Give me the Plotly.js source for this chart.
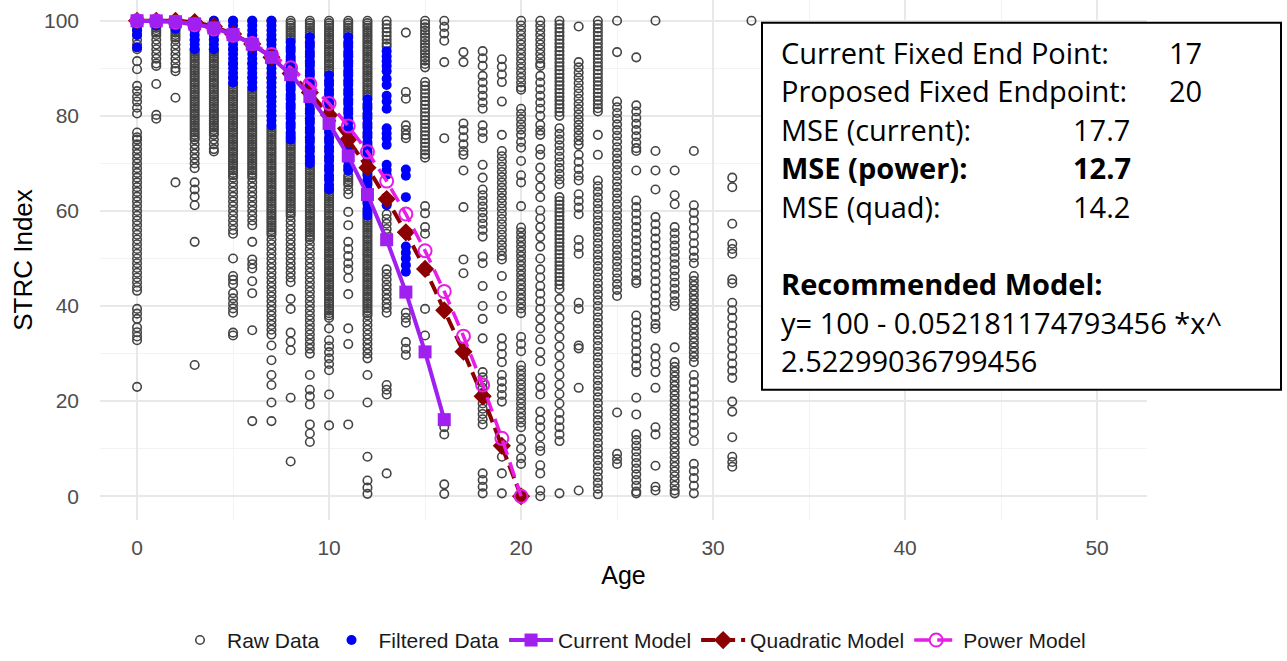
<!DOCTYPE html>
<html><head><meta charset="utf-8">
<script src="https://cdn.plot.ly/plotly-3.0.1.min.js"></script>
<style>html,body{margin:0;padding:0;background:#fff}#chart{width:1287px;height:661px}</style>
</head><body><div id="chart"></div>
<script>
// ---------- DATA ----------
const rawAges = [0,1,2,3,4,5,6,7,8,9,10,11,12,13,14,15,16,17,18,19,20,21,22,23,24,25,26,27,28,29,31,32];
const rawValues = [
 [100,99.5,99,98,97,96,95,94,91.5,89.8,86.3,85.2,84,83,81.7,80.5,76.5,75.5,75,74,73,72,71,70,69,68,67,66,65,64,63,62,61,60,59,58,57,56,55,54,53,52,51,50,49,48,47,46,45,44,43.2,39.4,38.4,37.3,35.5,34.5,33.6,32.8,23],
 [100,99.5,99,98.5,98,97.5,97,96,95,94,93,92,91,90.5,86.7,80.2,79.4],
 [100,99.5,99,98.5,98,97.5,97,96.5,96,95,94,93,92,91,90,89.4,83.8,66],
 [100,98,96,94,93.5,93,92.5,92,91.5,91,90.5,90,89.5,89,88.5,88,87.5,87,86.5,86,85.5,85,84.5,84,83.5,83,82.5,82,81.5,81,80.5,80,79.5,79,78.5,78,77.5,77,76.5,76,75.5,75,74,73,72,71,70,69,66,64.5,63,61.2,53.5,27.6],
 [100,98,96,94,93.5,93,92.5,92,91.5,91,90.5,90,89.5,89,88.5,88,87.5,87,86.5,86,85.5,85,84.5,84,83.5,83,82.5,82,81.5,81,80.5,80,79.5,79,78.5,78,77.5,77,76.5,76,75,74,73,72.5],
 [100,97,94,91,88,86.5,86,85.5,85,84.5,84,83.5,83,82.5,82,81.5,81,80.5,80,79.5,79,78.5,78,77.5,77,76.5,76,75.5,75,74.5,74,73.5,73,72.5,72,71.5,71,70.5,70,69.5,69,68.5,68,67.5,67,66,65,64,63,62,61,60,59,58,57,56,55.2,50,46.3,45.5,44.6,42.7,41.6,40.5,39.5,38.6,34.4,33.8],
 [100,97,94,91,88,85.5,85,84.5,84,83.5,83,82.5,82,81.5,81,80.5,80,79.5,79,78.5,78,77.5,77,76.5,76,75.5,75,74.5,74,73.5,73,72.5,72,71.5,71,70.5,70,69.5,69,68.5,68,67.5,67,66,65,64,63,62,61,60,59,58,57,53.5,49.8,48.8,47.9,45.2,42.7,34.9,15.8],
 [100,96,92,88,84,80,77.5,77,76.5,76,75.5,75,74.5,74,73.5,73,72.5,72,71.5,71,70.5,70,69.5,69,68.5,68,67.5,67,66.5,66,65.5,65,64.5,64,63.5,63,62.5,62,61.5,61,60.5,60,59.5,59,58.5,58,57.5,57,56.5,56,55.5,55,54,53,52,51,50,49,48,47,46,45,44,43,42,41,40,39,38,37,36,35,34,31.7,28.6,25.5,23.4,19.7,15.8],
 [100,99.5,99,98.5,98,97.5,97,96.5,96,94,92,90,88,86,84,82,80,78,76,74.5,74,73.5,73,72.5,72,71.5,71,70.5,70,69.5,69,68.5,68,67.5,67,66.5,66,65.5,65,64.5,64,63.5,63,62.5,62,61.5,61,60.5,60,59.5,59,58,57,56,55,54,53,52,51,50,49,48,47,46,45,41.5,39.4,34.4,32.5,30.7,20.7,7.3],
 [100,99.5,99,98.5,98,97.5,97,95,93,91,89,87,85,83,81,79,77,75,73,71,69.5,69,68.5,68,67.5,67,66.5,66,65.5,65,64.5,64,63.5,63,62.5,62,61.5,61,60.5,60,59.5,59,58.5,58,57.5,57,56.5,56,55.5,55,54.5,54,53,52,51,50,49,48,47,46,45,44,43,42,41,40,39,38,37,36,35,34,33,32,31,30,25.5,22.4,21,19.3,15.1,13.2,11.4],
 [100,99.5,99,98.5,98,97.5,97,96.5,96,95.5,95,94.5,94,93.5,93,92.5,92,91.5,91,90.5,90,89.5,89,87,85,83,81,79,77,75,73,71,69,67,65,64,63.5,63,62.5,62,61.5,61,60.5,60,59.5,59,58.5,58,57.5,57,56.5,56,55.5,55,54.5,54,53.5,53,52.5,52,51.5,51,50.5,50,49.5,49,48.5,48,47.5,47,46.5,46,45.5,45,44.5,44,43.5,43,42.5,42,41.5,41,40.5,40,39.5,39,38.5,38,37.5,35.3,32.8,31.5,30.3,29,27.8,26.5,21.4,14.9],
 [100,99.5,99,98.5,98,97.5,97,95,93,91,89,87,85,83,81,79,77,75,73,71,69,67.5,67,66.5,66,65.5,64.5,63.5,59.8,57,53.5,52,50.5,49,47.7,45.9,42.5,35.3,32,15.1],
 [100,99.5,99,98.5,98,97.5,97,96.5,96,95.5,95,94.5,94,93.5,93,92.5,92,91.5,91,90.5,90,89.5,89,88.5,88,87.5,87,86.5,86,85.5,85,84.5,84,82,80,78,76,74,72,70,68,66,64,62,60,58.5,58,57.5,57,56.5,56,55.5,55,54.5,54,53.5,53,52.5,52,51.5,51,50.5,50,49.5,49,48.5,48,47.5,47,46.5,46,45.5,45,44.5,44,43.5,43,42.5,42,41.5,41,40.5,40,39.5,39,38.5,38,37,36,35,34,33,32,31,30,29,25.5,19.7,8.3,3.3,1.8,0.5],
 [100,99.2,98.4,97.6,96.8,96,95.2,94.6,59.3,58.3,57.3,56.2,55.2,47.7,46.7,45.6,44.5,43.5,42.5,41.5,40.5,39.6,38.6,23.4,22.4,21.4,4.8],
 [97.5,85,83.6,78,77,76,75.3,38.6,37.5,36.5,32.4,31,29.7],
 [100,99.3,98.6,97.9,97.2,96.5,95.8,95.1,94.4,93.7,93,92.3,91.6,90.9,90.2,87.1,86.3,85.5,84.7,83.9,83.1,82.3,81.5,80.7,79.9,79.1,78.3,77.5,76.7,75.9,75.1,74.3,73.5,72.7,71.9,71.2,61,59.5,56.6,55.2,47.7,39.4,33.8],
 [100,98.7,97.3,95.8,91.3,75.3,14.5,13,2.5,0.5],
 [93.4,91.3,78.4,77,75.5,74,72.6,71.8,68.5,60.8,49.8,46.9],
 [93.6,92.1,90.5,88.4,87,85.6,84.2,82.8,81.5,78,76.6,75.3,69.7,67,64.5,63.3,62.1,60.9,59.7,58.5,57.3,56,54.6,50.4,49,44.2,40,37.3,33.2,26.1,25,23.9,22.8,21.7,20.6,19.5,18.4,17.3,16.2,15.1,4.8,3.4,2,0.6],
 [91.9,90.3,88.7,87.1,83,76,72.6,71.5,70.4,69.3,68.2,67.1,66,64.9,63.8,62.7,61.6,60.5,59.4,58.3,57.2,56.1,55,53.9,52.8,51.7,50.6,49.8,46.3,42.1,39.4,33.2,31.5,29.9,28.2,25.5,24.1,22.7,21.3,19.9,8.3,4.8,0.6],
 [100,99,98,97,96,95,94,93,92,91,90,89,88,87,86,85.5,81.5,80.4,79.3,78.2,77.1,76,74.5,73.3,70.5,67.5,66,61,56.5,55.5,54.5,53.5,52.5,51.5,50.5,49.5,48.5,47.5,46.5,45.5,44.5,43.5,42.5,41.5,40.5,39.5,38.5,33.5,32,30.5,27.5,26.5,25.5,24.5,23.5,22.5,21.5,20.5,19.5,18.5,17.5,16.5,15.5,14.5,12,10,8,6.8],
 [100,99,98,97,96,95,94,93,92,91,90.5,88.4,87,85.6,84.2,82.8,81.5,80,78.1,76.9,76,73,71.8,69.1,67,65,62.9,60.1,58.4,56.6,54.5,52.5,50,47.7,46,44.2,42.6,41,39.4,37.3,35.3,33,30.3,28.4,24.9,23,21.4,17.8,16,14.5,12.5,10.5,9.5,6.5,4.8,1.2,0],
 [100,99.2,98.4,97.6,96.8,96,95.2,94.4,93.6,92.8,92,91.2,90.4,89.6,88.8,88,87.2,86.4,85.6,84.8,84,83.2,82.4,81.6,80.8,80,77.4,76.2,75,73.8,72.6,71.4,70.2,69,67.8,66.6,65.6,62.9,62.1,61.3,60.5,59.7,58.9,58.1,57.3,56.5,55.7,54.9,54.1,53.3,52.5,51.7,50.9,50.1,49.3,48.5,47.7,46.9,46.1,45.3,44.5,43.6,41.5,39.5,37.5,35.5,33.5,31.5,29.5,27.5,25.5,23.5,21.5,19.5,17.5,16,14.5,13,11.6,0.6],
 [98.8,91.3,90.2,89.1,88,86.9,85.8,84.7,83.6,82.5,81.4,80.3,79.2,78.1,77,75.9,74.8,73.9,71.8,70.3,68.8,67.4,66.4,63.5,62.1,60.7,59.3,53.9,52.4,51,40.7,39.4,31.7,31.1,22.8,1.2],
 [100,99.2,98.4,97.6,96.8,96,95.2,94.4,93.6,92.8,92,91.2,90.4,89.6,88.8,88,87.2,86.4,85.6,84.8,84,83.2,82.4,81.6,80.9,76,71.8,66.4,65.2,64,62.8,61.6,60.4,59.2,58,56.8,55.6,54.4,53.2,52,50.8,49.6,48.4,47.2,46,44.8,43.6,42.4,41.2,40,38.8,37.6,36.4,35.2,34,32.8,31.6,30.4,29.2,28,26.8,25.6,24.4,23.2,22,20.8,19.6,18.4,17.2,16,14.8,13.6,12.4,11.2,10,8.8,7.6,6.4,5.2,4,2.8,1.6,0.4],
 [100,93.4,83,81.8,80.6,79.4,78.2,77,75.8,74.6,73.4,72.2,71,69.8,68.6,67.4,66.2,65,63.8,62.6,61.4,60.2,59,57.8,56.6,55.4,54.2,53,51.8,50.6,49.4,48.2,47,45.8,44.6,43.4,42.1,17.6,8.9,7.8,6.8],
 [92.3,82.2,80.9,79.6,78.3,77,75.7,74.4,73.2,72.6,68.5,62.2,60.8,59.4,58,56.6,55.2,53.8,52.4,51,49.6,48.2,46.8,45.4,44.8,38,36.5,35,33.5,32,30.5,29,27.5,26.1,20.7,17.2,13,11.8,10.6,9.4,8.2,7,5.8,4.6,3.4,2.2,1,0.6],
 [100,72.6,68.5,64.5,58.7,57.2,55.7,54.2,52.7,51.2,49.7,48.2,46.7,45.2,43.7,42.2,40.7,39.2,37.7,36.2,35.3,31.1,29.4,27.8,26.1,22.8,14.5,13,6.4,2,1.2],
 [68.5,63.3,61.4,56.6,55.3,54,52.7,51.4,50.1,48.8,47.5,46.2,44.9,43.6,42.3,41,40,31.3,28.2,27.2,26.2,25.2,24.2,23.2,22.2,21.2,20.2,19.2,18.2,17.2,16.2,15.2,14.2,13.2,12.2,11.2,10.2,9.2,8.2,7.2,6.2,5.2,4.2,3.2,2.2,1.2,0.6],
 [72.6,61.2,59.6,58,56.4,54.8,53.2,51.6,50.2,49,46.3,45.3,44.3,43.3,42.3,41.3,40.3,39.3,38.3,37.3,36.3,35.3,34.3,33.3,32.3,31.3,30.3,29.3,28.2,25.5,24,22.5,21,19.5,18,16.5,15,13.5,11.6,6.8,5.3,3.8,2.2,0.6],
 [67,65,57.3,53.1,52,51,45.6,44.8,40.7,39.1,37.5,35.9,34.3,32.7,31.1,29.5,27.9,26.4,24.9,19.9,17.8,12.4,8.3,7.2,6.2],
 [100]
];

const filteredAges = [0,1,2,3,4,5,6,7,8,9,10,11,12,13,14];
const filteredValues = [
 [100,99,98,97,94.4],
 [100,99],
 [100,99,98.3],
 [100,99,98,97,96,95,94],
 [100,99,98,97,96,95,94],
 [100,99,98,97,96,95,94,93,92,91,90,89,88,87],
 [100,99,98,97,96,95,94,93,92,91,90,89,88,87,86],
 [100,99,98,97,96,95,94,93,92,91,90,89,88,87,86,85,84,83,82,81,80,79,78],
 [95.5,94.5,93.5,92.5,91.5,90.5,89.5,88.5,87.5,86.5,85.5,84.5,83.5,82.5,81.5,80.5,79.5,78.5,77.5,76.5,75.5,75],
 [96.5,95.5,94.5,93.5,92.5,91.5,90.5,89.5,88.5,87.5,86.5,85.5,84.5,83.5,82.5,81.5,80.5,79.5,78.5,77.5,76.5,75.5,74.5,73.5,72.5,71.5,70.5,70],
 [88.5,87.5,86.5,85.5,84.5,83.5,82.5,81.5,80.5,79.5,78.5,77.5,76.5,75.5,74.5,73.5,72.5,71.5,70.5,69.5,68.5,67.5,66.5,65.5,64.5],
 [96.5,95.5,94.5,93.5,92.5,91.5,90.5,89.5,88.5,87.5,86.5,85.5,84.5,83.5,82.5,81.5,80.5,79.5,78.5,77.5,76.5,75.5,74.5,73.5,72.5,71.5,70.5,69.5,68.5],
 [83.5,82.5,81.5,80.5,79.5,78.5,77.5,76.5,75.5,74.5,73.5,72.5,71.5,70.5,69.5,68.5,67.5,66.5,65.5,64.5,63.5,62.5,61.5,60.5,59.5,59],
 [93.6,92.5,91.5,90.5,89.4,87.8,86.5,84.2,83,81.5,77.4,76.3,75.3,73.9,69.7,68.6,67.6,62.2,61.2],
 [68.7,67.4,62.9,52.5,51.2,50,48.6,47.2]
];

const currentAges = [0,1,2,3,4,5,6,7,8,9,10,11,12,13,14,15,16];
const currentModel = [100,99.97,99.79,99.33,98.47,97.08,95.06,92.29,88.67,84.07,78.4,71.57,63.44,53.94,42.93,30.35,16.1];
const modelAges = [0,1,2,3,4,5,6,7,8,9,10,11,12,13,14,15,16,17,18,19,20];
const quadraticModel = [100,100,100,99.7,98.8,97.2,95.1,92.3,88.9,84.9,80.2,75,69.1,62.5,55.5,47.8,39.1,30.4,21,10.6,0];
const powerModel = [100,99.95,99.7,99.17,98.28,96.97,95.2,92.92,90.09,86.66,82.6,77.87,72.43,66.27,59.35,51.63,43.08,33.66,23.39,12.17,0];

const seriesNames = ['Raw Data','Filtered Data','Current Model','Quadratic Model','Power Model'];
const xTicks = [0,10,20,30,40,50];
const yTicks = [0,20,40,60,80,100];
const boxLabels = ['Current Fixed End Point:','Proposed Fixed Endpoint:','MSE (current):','<b>MSE (power):</b>','MSE (quad):','','<b>Recommended Model:</b>','y= 100 - 0.052181174793456 *x^','2.52299036799456'];
const boxValues = ['17','20','17.7','<b>12.7</b>','14.2','','','',''];

// ---------- BUILD ----------
function flatten(ages, vals){
  const x=[], y=[];
  ages.forEach((a,i)=>vals[i].forEach(v=>{x.push(a); y.push(v);}));
  return {x, y};
}
const raw = flatten(rawAges, rawValues);
const filt = flatten(filteredAges, filteredValues);

const traces = [
  {type:'scatter', mode:'markers', name:seriesNames[0], x:raw.x, y:raw.y, legendrank:1,
   marker:{symbol:'circle-open', size:8.5, color:'#444444', line:{width:1.6, color:'#444444'}}},
  {type:'scatter', mode:'markers', name:seriesNames[1], x:filt.x, y:filt.y, legendrank:2,
   marker:{symbol:'circle', size:10, color:'#0000ff'}},
  {type:'scatter', mode:'lines+markers', name:seriesNames[3], x:modelAges, y:quadraticModel, legendrank:4,
   line:{color:'#8b0000', width:4, dash:'14px,6px'}, marker:{symbol:'diamond', size:14, color:'#8b0000'}},
  {type:'scatter', mode:'lines+markers', name:seriesNames[4], x:modelAges, y:powerModel, legendrank:5,
   line:{color:'#e81ee8', width:3.5, dash:'15px,8px'}, marker:{symbol:'circle-open', size:13, color:'#e81ee8', line:{width:2, color:'#e81ee8'}}},
  {type:'scatter', mode:'lines+markers', name:seriesNames[2], x:currentAges, y:currentModel, legendrank:3,
   line:{color:'#a020f0', width:4}, marker:{symbol:'square', size:13, color:'#a020f0'}}
];

// layout geometry (pixels)
const PL=100, PR=1147, PT=0, PB=527;
const px = v => (v-PL)/(PR-PL);
const py = v => (PB-v)/(PB-PT);

const lineY = [53,92,131,170,209,248,287,327,365];
const annotations = [];
boxLabels.forEach((t,i)=>{
  if(t) annotations.push({xref:'paper', yref:'paper', x:px(779), y:py(lineY[i]), xanchor:'left', yanchor:'middle',
    text:t, showarrow:false, font:{family:'Open Sans, sans-serif', size:29, color:'#000'}});
});
const valueX = [1167,1167,1071,1071,1071];
boxValues.forEach((t,i)=>{
  if(t) annotations.push({xref:'paper', yref:'paper', x:px(valueX[i]), y:py(lineY[i]), xanchor:'left', yanchor:'middle',
    text:t, showarrow:false, font:{family:'Open Sans, sans-serif', size:29, color:'#000'}});
});

const layout = {
  width:1287, height:661,
  margin:{l:PL, r:1287-PR, t:PT, b:661-PB},
  paper_bgcolor:'#fff', plot_bgcolor:'#fff',
  font:{family:'Liberation Sans, Arial, sans-serif', color:'#000'},
  showlegend:true,
  legend:{orientation:'h', x:px(632), xanchor:'center', y:py(649), yanchor:'middle',
          font:{size:21, color:'#1a1a1a'}, itemwidth:44, traceorder:'normal'},
  xaxis:{range:[-1.93,52.6], tickvals:xTicks, ticktext:xTicks.map(String), showgrid:true, gridcolor:'#e8e8e8', gridwidth:1.6,
         zeroline:false, showline:false, ticks:'', ticklabelstandoff:13,
         tickfont:{size:21, color:'#4d4d4d'},
         minor:{tickvals:[5,15,25,35,45], showgrid:true, gridcolor:'#f2f2f2', gridwidth:0.9},
         title:{text:'Age', font:{size:25, color:'#000'}, standoff:8}},
  yaxis:{range:[-5,104.36], tickvals:yTicks, ticktext:yTicks.map(String), showgrid:true, gridcolor:'#e8e8e8', gridwidth:1.6,
         zeroline:false, showline:false, ticks:'', ticklabelstandoff:20,
         tickfont:{size:21, color:'#4d4d4d'},
         minor:{tickvals:[10,30,50,70,90], showgrid:true, gridcolor:'#f2f2f2', gridwidth:0.9},
         title:{text:'STRC Index', font:{size:26, color:'#000'}, standoff:3}},
  shapes:[{type:'rect', xref:'paper', yref:'paper', x0:px(762), x1:px(1281), y0:py(395), y1:py(23),
           fillcolor:'#fff', line:{color:'#000', width:2}, layer:'above'}],
  annotations:annotations
};

Plotly.newPlot('chart', traces, layout, {displayModeBar:false, staticPlot:true});
</script>
</body></html>
